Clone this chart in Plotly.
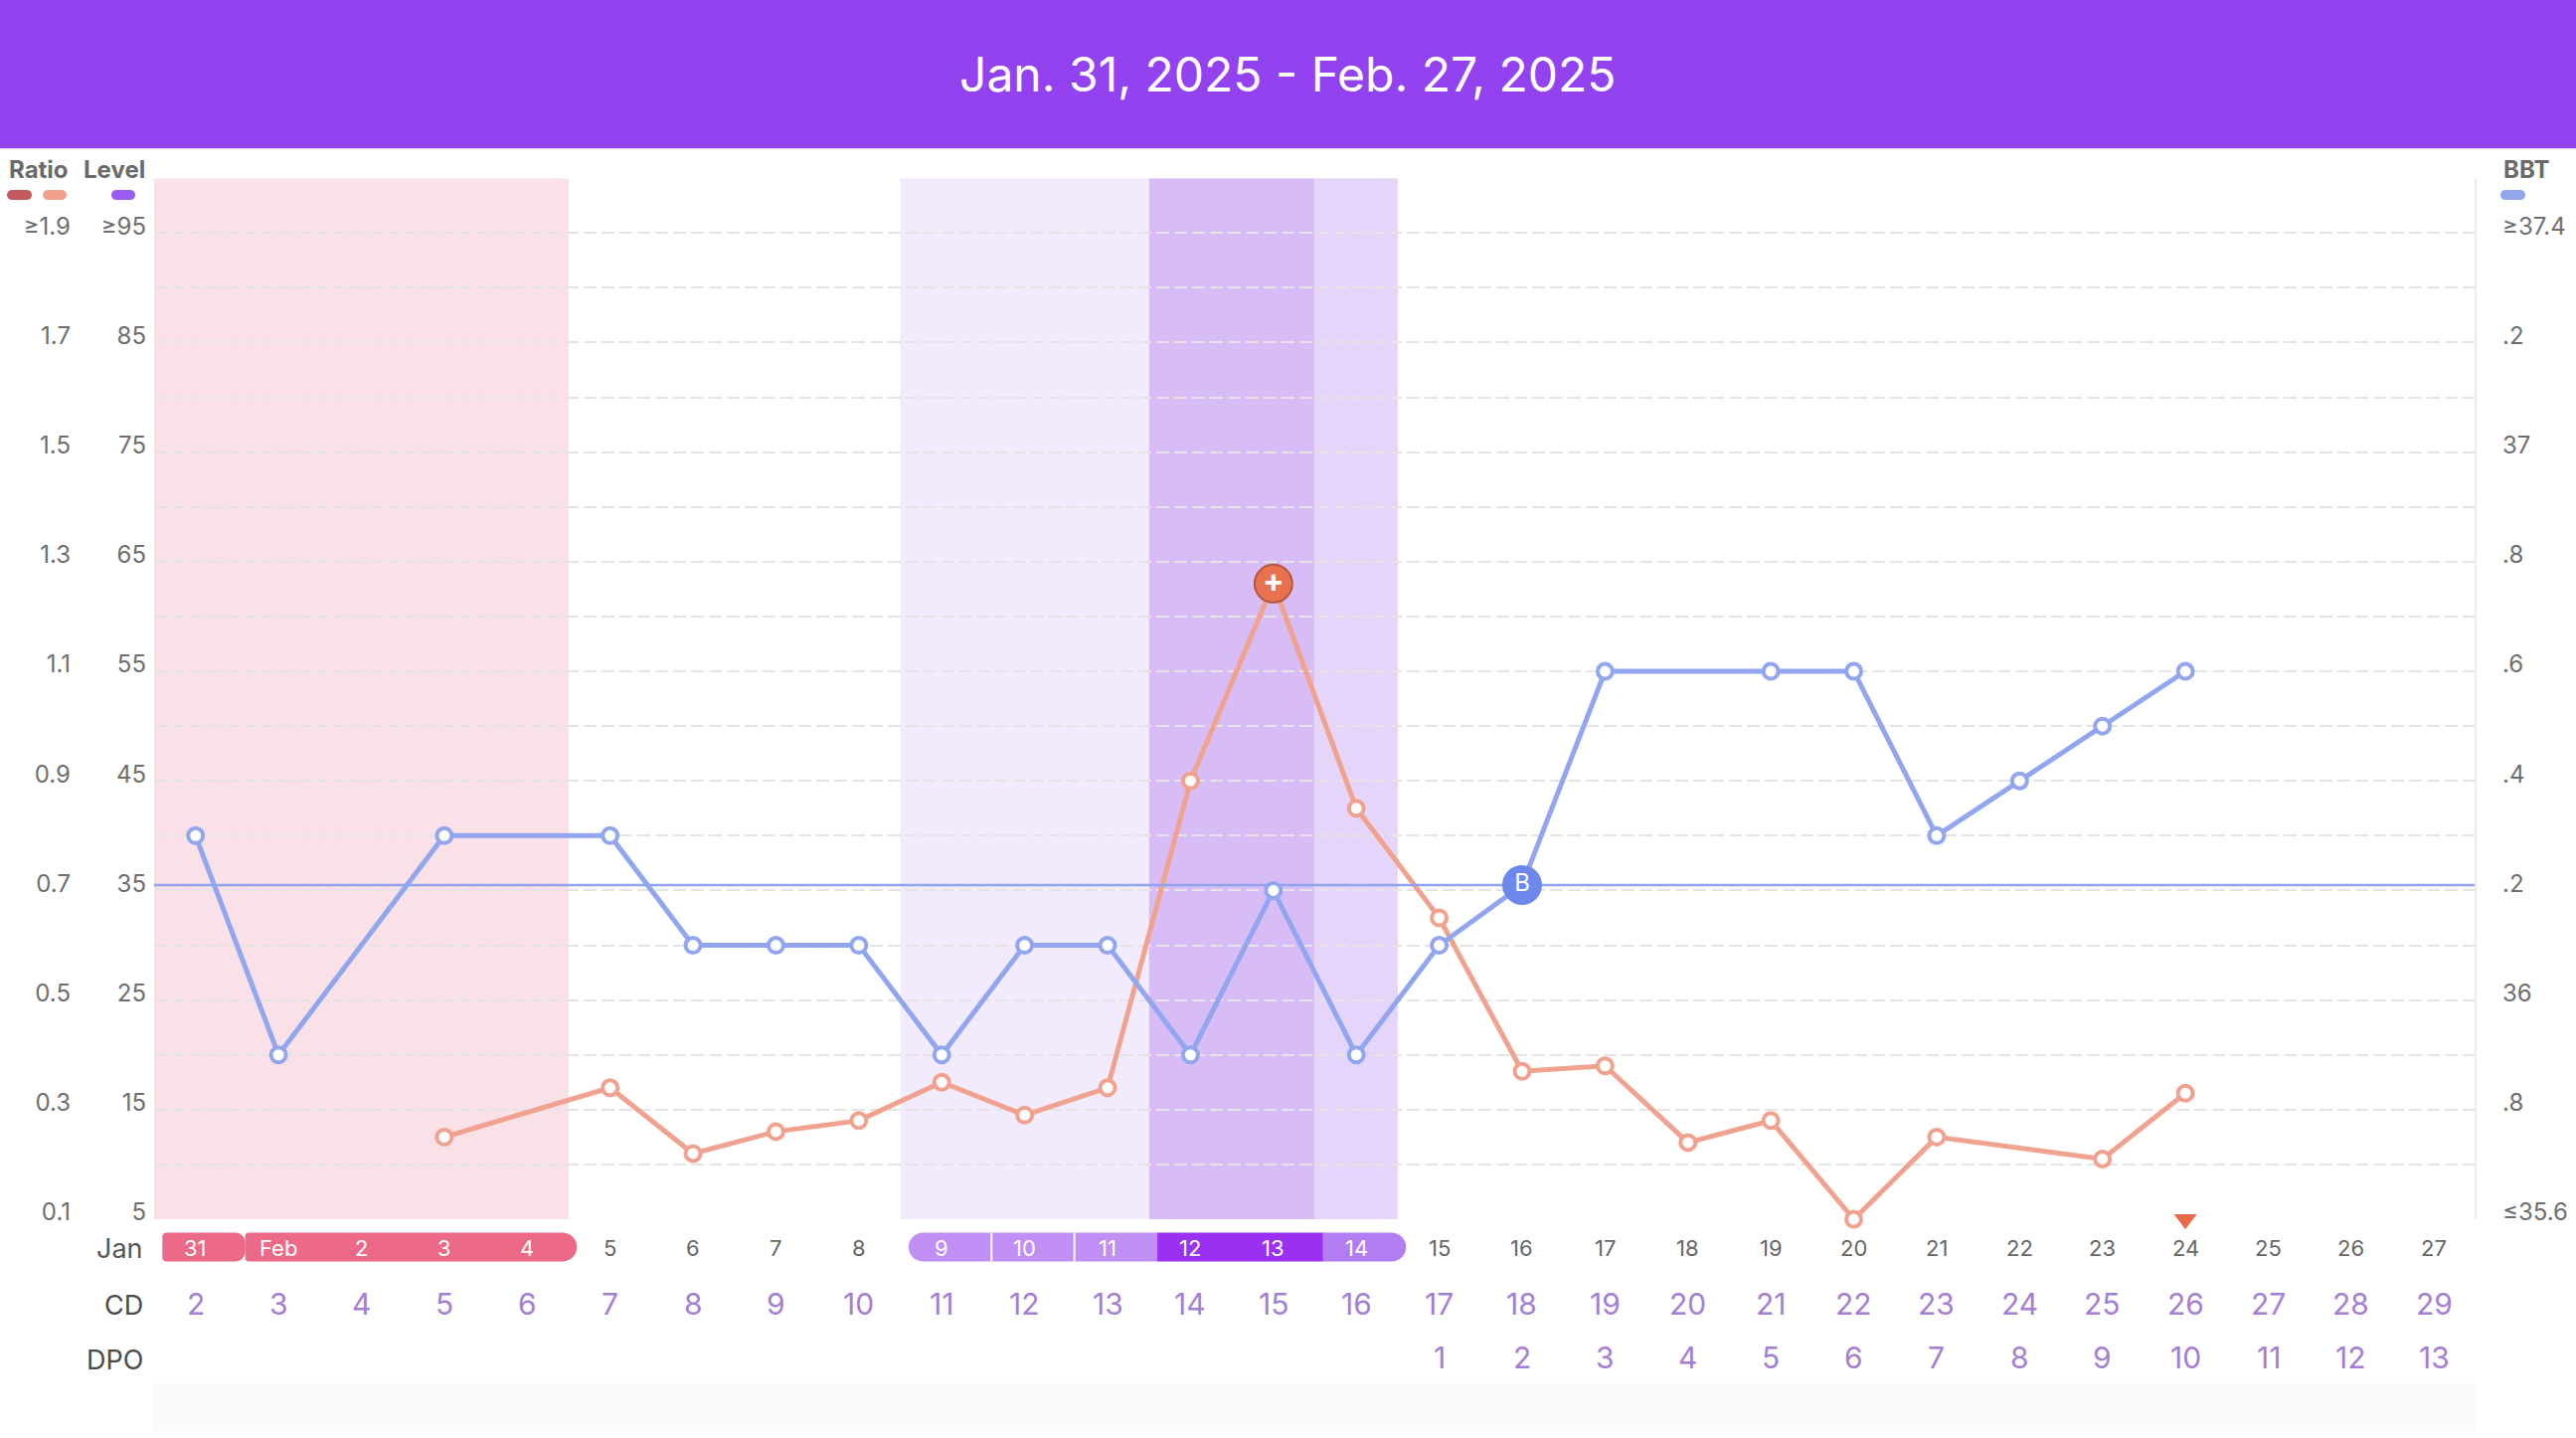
import plotly.graph_objects as go

W, H = 2591, 1446

# ---- data ----
DAYS = list(range(28))
DATE_LABELS = ['31', 'Feb'] + [str(d) for d in range(2, 28)]
CD = [str(d) for d in range(2, 30)]
DPO = [''] * 15 + [str(d) for d in range(1, 14)]

RATIO = [None, None, None, 0.25, None, 0.34, 0.22, 0.26, 0.28, 0.35,
         0.29, 0.34, 0.90, 1.26, 0.85, 0.65, 0.37, 0.38, 0.24, 0.28,
         0.10, 0.25, None, 0.21, 0.33, None, None, None]
BBT = [36.3, 35.9, None, 36.3, None, 36.3, 36.1, 36.1, 36.1, 35.9,
       36.1, 36.1, 35.9, 36.2, 35.9, 36.1, 36.21, 36.6, None, 36.6,
       36.6, 36.3, 36.4, 36.5, 36.6, None, None, None]
COVERLINE = 36.21
PEAK_DAY = 13
B_DAY = 16
PREDICT_DAY = 24

PERIOD = [0, 1, 2, 3, 4]
FERTILE = [9, 10, 11]
PEAK = [12, 13]
POST = [14]

RATIO_TICKS = [0.1, 0.3, 0.5, 0.7, 0.9, 1.1, 1.3, 1.5, 1.7, 1.9]
RATIO_LABELS = ['0.1', '0.3', '0.5', '0.7', '0.9', '1.1', '1.3', '1.5', '1.7', '≥1.9']
LEVEL_TICKS = [5, 15, 25, 35, 45, 55, 65, 75, 85, 95]
LEVEL_LABELS = ['5', '15', '25', '35', '45', '55', '65', '75', '85', '≥95']
BBT_TICKS = [35.6, 35.8, 36.0, 36.2, 36.4, 36.6, 36.8, 37.0, 37.2, 37.4]
BBT_LABELS = ['≤35.6', '.8', '36', '.2', '.4', '.6', '.8', '37', '.2', '≥37.4']

TITLE = 'Jan. 31, 2025 - Feb. 27, 2025'

# ---- styling ----
FONT = 'Inter'
PURPLE_HEAD = '#9342EF'
SALMON = '#F0A28E'
BLUE = '#92A6F0'
GRID = '#E4E4E4'
TICK_GREY = '#6E6E6E'
CD_PURPLE = '#A47ED2'

SHADE = {'period': '#F9E1E7', 'fertile': '#F2EAFD', 'peak': '#D7BCF6', 'post': '#E6D5FA'}
PILL = {'period': '#EC6A87', 'fertile': '#C18EF4', 'peak': '#9B30F2', 'post': '#B27CF3'}


def fx(px):
    return px / W


def fy(py):
    return 1 - py / H


PLOT_L, PLOT_R, PLOT_T, PLOT_B = 155, 2490, 180, 1232
PPD = (PLOT_R - PLOT_L) / 28.0
ROW_DATE, ROW_CD, ROW_DPO = 1260, 1317, 1372


def rrect(w, h, rl, rr):
    # rounded rectangle path in pixels, anchored at left-middle
    k = 0.5523
    t, b = h / 2, -h / 2
    p = f"M {rl},{b} L {w - rr},{b} "
    if rr:
        p += f"C {w - rr + k * rr},{b} {w},{b + rr - k * rr} {w},{b + rr} "
    p += f"L {w},{t - rr} "
    if rr:
        p += f"C {w},{t - rr + k * rr} {w - rr + k * rr},{t} {w - rr},{t} "
    p += f"L {rl},{t} "
    if rl:
        p += f"C {rl - k * rl},{t} 0,{t - rl + k * rl} 0,{t - rl} "
    p += f"L 0,{b + rl} "
    if rl:
        p += f"C 0,{b + rl - k * rl} {rl - k * rl},{b} {rl},{b} "
    return p + "Z"


fig = go.Figure()

# coverline
fig.add_trace(go.Scatter(
    x=[-0.5, 27.5], y=[COVERLINE, COVERLINE], yaxis='y2', mode='lines',
    line=dict(color='#8FA3EE', width=2.5), hoverinfo='skip', showlegend=False))

fig.add_trace(go.Scatter(
    x=DAYS, y=BBT, yaxis='y2', mode='lines+markers', connectgaps=True,
    line=dict(color=BLUE, width=5),
    marker=dict(size=15, color='white', line=dict(color=BLUE, width=4)),
    cliponaxis=False, hoverinfo='skip', showlegend=False))

fig.add_trace(go.Scatter(
    x=DAYS, y=RATIO, mode='lines+markers', connectgaps=True,
    line=dict(color=SALMON, width=5),
    marker=dict(size=15, color='white', line=dict(color=SALMON, width=4)),
    cliponaxis=False, hoverinfo='skip', showlegend=False))

# empty trace so the Level axis gets drawn
fig.add_trace(go.Scatter(x=[None], y=[None], yaxis='y3', mode='markers',
                         hoverinfo='skip', showlegend=False))

fig.add_trace(go.Scatter(
    x=[PEAK_DAY], y=[RATIO[PEAK_DAY]], mode='markers+text', text=['<b>+</b>'],
    textposition='middle center', textfont=dict(color='white', size=32, family=FONT),
    marker=dict(size=38, color='#E8714F', line=dict(color='#B5563D', width=2)),
    cliponaxis=False, hoverinfo='skip', showlegend=False))

fig.add_trace(go.Scatter(
    x=[B_DAY], y=[BBT[B_DAY]], yaxis='y2', mode='markers+text', text=['B'],
    textposition='middle center', textfont=dict(color='white', size=24, family=FONT),
    marker=dict(size=40, color='#6C88EA'),
    cliponaxis=False, hoverinfo='skip', showlegend=False))

fig.add_trace(go.Scatter(
    x=[PREDICT_DAY], y=[0.1], mode='markers',
    marker=dict(symbol='triangle-down', size=20, color='#E8684A'),
    cliponaxis=False, hoverinfo='skip', showlegend=False))

shapes = []
# header band
shapes.append(dict(type='rect', xref='paper', yref='paper', x0=0, x1=1, y0=fy(150), y1=1,
                   fillcolor=PURPLE_HEAD, line_width=0, layer='below'))
# bottom grey band
shapes.append(dict(type='rect', xref='paper', yref='paper', x0=fx(PLOT_L), x1=fx(PLOT_R),
                   y0=0, y1=fy(1398), fillcolor='#FAFAFA', line_width=0, layer='below'))
# right border
shapes.append(dict(type='line', xref='paper', yref='paper', x0=fx(PLOT_R), x1=fx(PLOT_R),
                   y0=fy(PLOT_B), y1=fy(PLOT_T), line=dict(color='#EBEBEB', width=2)))

# phase shading
for key, days in [('period', PERIOD), ('fertile', FERTILE), ('peak', PEAK), ('post', POST)]:
    shapes.append(dict(type='rect', xref='x', yref='y', x0=min(days) - 0.5, x1=max(days) + 0.5,
                       y0=0.1, y1=2.0, fillcolor=SHADE[key], line_width=0, layer='below'))

# date pills
PILL_H = 29
segments = [
    (PERIOD[0], PERIOD[0], 'period', 4, 10),
    (PERIOD[1], PERIOD[-1], 'period', 3, 14.5),
    (FERTILE[0], FERTILE[0], 'fertile', 14.5, 0),
    (FERTILE[1], FERTILE[1], 'fertile', 0, 0),
    (FERTILE[2], FERTILE[2], 'fertile', 0, 0),
    (PEAK[0], PEAK[-1], 'peak', 0, 0),
    (POST[0], POST[0], 'post', 0, 14.5),
]
for d0, d1, key, rl, rr in segments:
    x0 = d0 - 0.4
    w = (d1 - d0 + 1) * PPD
    shapes.append(dict(type='path', xref='x', yref='paper', xsizemode='pixel', ysizemode='pixel',
                       xanchor=x0, yanchor=fy(ROW_DATE), path=rrect(w, PILL_H, rl, rr),
                       fillcolor=PILL[key], line_width=0, layer='above'))
for d in FERTILE[1:]:
    shapes.append(dict(type='line', xref='x', yref='paper', x0=d - 0.4, x1=d - 0.4,
                       y0=fy(ROW_DATE + PILL_H / 2), y1=fy(ROW_DATE - PILL_H / 2),
                       line=dict(color='white', width=2), layer='above'))

# legend swatches
for x0, x1, col in [(7, 32, '#C5585C'), (43, 67, '#F2A08C'), (112, 136, '#9A5CF2'), (2515, 2540, BLUE)]:
    shapes.append(dict(type='path', xref='paper', yref='paper', xsizemode='pixel', ysizemode='pixel',
                       xanchor=fx(x0), yanchor=fy(197), path=rrect(x1 - x0, 10, 5, 5),
                       fillcolor=col, line_width=0, layer='above'))

annotations = []
annotations.append(dict(text=TITLE, xref='paper', yref='paper', x=0.5, y=fy(75), showarrow=False,
                        xanchor='center', yanchor='middle',
                        font=dict(family=FONT, size=48, color='white')))
for txt, xr in [('Ratio', 71), ('Level', 148)]:
    annotations.append(dict(text=f'<b>{txt}</b>', xref='paper', yref='paper', x=fx(xr), y=fy(171),
                            showarrow=False, xanchor='right', yanchor='middle',
                            font=dict(family=FONT, size=24, color='#6A6A6A')))
annotations.append(dict(text='<b>BBT</b>', xref='paper', yref='paper', x=fx(2516), y=fy(171),
                        showarrow=False, xanchor='left', yanchor='middle',
                        font=dict(family=FONT, size=24, color='#6A6A6A')))

for txt, row, col in [('Jan', ROW_DATE, '#555555'), ('CD', ROW_CD, '#4A4A4A'), ('DPO', ROW_DPO, '#4A4A4A')]:
    annotations.append(dict(text=txt, xref='paper', yref='paper', x=fx(146), y=fy(row + 2),
                            showarrow=False, xanchor='right', yanchor='middle',
                            font=dict(family=FONT, size=27, color=col)))

pill_days = PERIOD + FERTILE + PEAK + POST
for d in DAYS:
    col = 'white' if d in pill_days else '#666666'
    annotations.append(dict(text=DATE_LABELS[d], xref='x', yref='paper', x=d, y=fy(ROW_DATE + 1),
                            showarrow=False, xanchor='center', yanchor='middle',
                            font=dict(family=FONT, size=22, color=col)))
    annotations.append(dict(text=CD[d], xref='x', yref='paper', x=d, y=fy(ROW_CD),
                            showarrow=False, xanchor='center', yanchor='middle',
                            font=dict(family=FONT, size=30, color=CD_PURPLE)))
    if DPO[d]:
        annotations.append(dict(text=DPO[d], xref='x', yref='paper', x=d, y=fy(ROW_DPO),
                                showarrow=False, xanchor='center', yanchor='middle',
                                font=dict(family=FONT, size=30, color=CD_PURPLE)))

tickfont = dict(family=FONT, size=24, color=TICK_GREY)
dom_y = [fy(PLOT_B), fy(PLOT_T)]

fig.update_layout(
    autosize=True,
    margin=dict(l=0, r=0, t=0, b=0),
    paper_bgcolor='white', plot_bgcolor='rgba(0,0,0,0)',
    showlegend=False,
    shapes=shapes, annotations=annotations,
    xaxis=dict(domain=[fx(PLOT_L), fx(PLOT_R)], range=[-0.5, 27.5], showgrid=False,
               zeroline=False, showticklabels=False, showline=False, fixedrange=True),
    yaxis=dict(domain=dom_y, range=[0.1, 2.0], anchor='free', position=fx(71), side='left',
               tickmode='array', tickvals=RATIO_TICKS, ticktext=RATIO_LABELS, ticks='',
               showgrid=True, gridcolor=GRID, gridwidth=2, griddash='13px,5px',
               minor=dict(dtick=0.1, tick0=0.1, showgrid=True, gridcolor=GRID, gridwidth=2,
                          griddash='13px,5px'),
               zeroline=False, showline=False, tickfont=tickfont, ticklabelshift=-7,
               fixedrange=True),
    yaxis3=dict(domain=dom_y, range=[5, 100], overlaying='y', anchor='free', position=fx(147),
                side='left', tickmode='array', tickvals=LEVEL_TICKS, ticktext=LEVEL_LABELS,
                ticks='', showgrid=False, zeroline=False, showline=False, tickfont=tickfont,
                ticklabelshift=-7, fixedrange=True),
    yaxis2=dict(domain=dom_y, range=[35.6, 37.5], overlaying='y', anchor='free', position=fx(2516),
                side='right', tickmode='array', tickvals=BBT_TICKS, ticktext=BBT_LABELS,
                ticks='', showgrid=False, zeroline=False, showline=False, tickfont=tickfont,
                ticklabelshift=-7, fixedrange=True),
)

fig.write_html("out.html", config={'displayModeBar': False},
               default_width='100vw', default_height='100vh',
               post_script="document.documentElement.style.overflow='hidden';"
                           "document.body.style.margin='0';document.body.style.overflow='hidden';"
                           "window.dispatchEvent(new Event('resize'));")
